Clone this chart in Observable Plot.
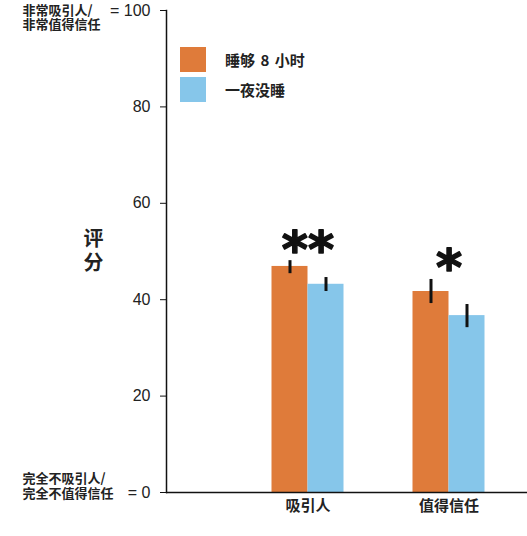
<!DOCTYPE html>
<html>
<head>
<meta charset="utf-8">
<script src="https://cdn.jsdelivr.net/npm/d3@7"></script>
<script src="https://cdn.jsdelivr.net/npm/@observablehq/plot@0.6"></script>
<style>
  body { margin: 0; background: #fff; font-family: "Liberation Sans", "Noto Sans CJK SC", sans-serif; }
  #wrap { position: relative; width: 527px; height: 536px; }
  .legend { position: absolute; left: 180px; top: 47px; font-family: "Noto Sans CJK SC", sans-serif; font-weight: bold; font-size: 15px; color: #222; }
  .item { display: flex; align-items: center; height: 25px; margin-bottom: 5px; }
  .sw { width: 26px; height: 25px; margin-right: 19px; }
  .item span { word-spacing: 2px; }
</style>
</head>
<body>
<div id="wrap"></div>
<script>
const categories = ["吸引人", "值得信任"];
const seriesNames = ["睡够 8 小时", "一夜没睡"];
const rested = [46.9, 41.7];
const deprived = [43.2, 36.7];
const restedLow = [45.4, 39.2];
const restedHigh = [48.1, 44.2];
const deprivedLow = [41.7, 34.2];
const deprivedHigh = [44.6, 39.0];
const significance = ["**", "*"];
const yTicks = [0, 20, 40, 60, 80, 100];
const yTickLabels = ["= 0", "20", "40", "60", "80", "= 100"];
const topLabel = ["非常吸引人/", "非常值得信任"];
const bottomLabel = ["完全不吸引人/", "完全不值得信任"];
const yTitle = ["评", "分"];
const colors = ["#DF7B3A", "#86C6EA"];

const restedRows = categories.map((c, i) => ({cat: c, value: rested[i], lo: restedLow[i], hi: restedHigh[i], sig: significance[i]}));
const deprivedRows = categories.map((c, i) => ({cat: c, value: deprived[i], lo: deprivedLow[i], hi: deprivedHigh[i]}));

const cjk = "'Noto Sans CJK SC', sans-serif";
const side = (txt, y, dy, size, dx, anchor) =>
  Plot.text([txt], {y, text: d => d, frameAnchor: "left", dx, dy, textAnchor: anchor, fontSize: size, fontWeight: "bold", fontFamily: cjk, fill: "#222"});

const chart = Plot.plot({
  width: 527,
  height: 536,
  marginLeft: 166,
  marginRight: 0,
  marginTop: 10,
  marginBottom: 44,
  style: {fontFamily: "'Liberation Sans', 'Noto Sans CJK SC', sans-serif", color: "#222", background: "#fff"},
  x: {type: "band", domain: categories, range: [236.5, 518.5], padding: 0},
  y: {domain: [0, 100]},
  marks: [
    Plot.barY(restedRows, {x: "cat", y: "value", fill: colors[0], insetLeft: 34.5, insetRight: 70.5}),
    Plot.barY(deprivedRows, {x: "cat", y: "value", fill: colors[1], insetLeft: 70.5, insetRight: 34.5}),
    Plot.ruleX(restedRows, {x: "cat", y1: "lo", y2: "hi", dx: -18, stroke: "#111", strokeWidth: 3}),
    Plot.ruleX(deprivedRows, {x: "cat", y1: "lo", y2: "hi", dx: 18, stroke: "#111", strokeWidth: 3}),
    Plot.text(restedRows, {x: "cat", y: "hi", text: "sig", dy: 6, lineAnchor: "bottom", fontSize: 50, fontWeight: "bold", fontFamily: "'DejaVu Sans', sans-serif", fill: "#111", stroke: "#111", strokeWidth: 1.5}),
    Plot.ruleY([0], {stroke: "#111", strokeWidth: 1.5}),
    Plot.frame({anchor: "left", stroke: "#111", strokeWidth: 1.5}),
    Plot.axisY({ticks: yTicks, tickFormat: (d, i) => yTickLabels[i], tickSize: 6, tickPadding: 10, fontSize: 16, label: null, stroke: "#111"}),
    Plot.axisX({tickSize: 0, tickPadding: 8, fontSize: 15, fontWeight: "bold", fontFamily: cjk, label: null}),
    side(topLabel[0], 100, 0, 13, -144, "start"),
    side(topLabel[1], 100, 14.5, 13, -144, "start"),
    side(bottomLabel[0], 0, -13.5, 13, -144, "start"),
    side(bottomLabel[1], 0, 1, 13, -144, "start"),
    side(yTitle[0], 50, -12, 20, -73, "middle"),
    side(yTitle[1], 50, 12, 20, -73, "middle")
  ]
});

const wrap = document.getElementById("wrap");
wrap.appendChild(chart);
const legend = document.createElement("div");
legend.className = "legend";
seriesNames.forEach((name, i) => {
  const item = document.createElement("div");
  item.className = "item";
  const sw = document.createElement("div");
  sw.className = "sw";
  sw.style.background = colors[i];
  const label = document.createElement("span");
  label.textContent = name;
  item.appendChild(sw);
  item.appendChild(label);
  legend.appendChild(item);
});
wrap.appendChild(legend);
</script>
</body>
</html>
